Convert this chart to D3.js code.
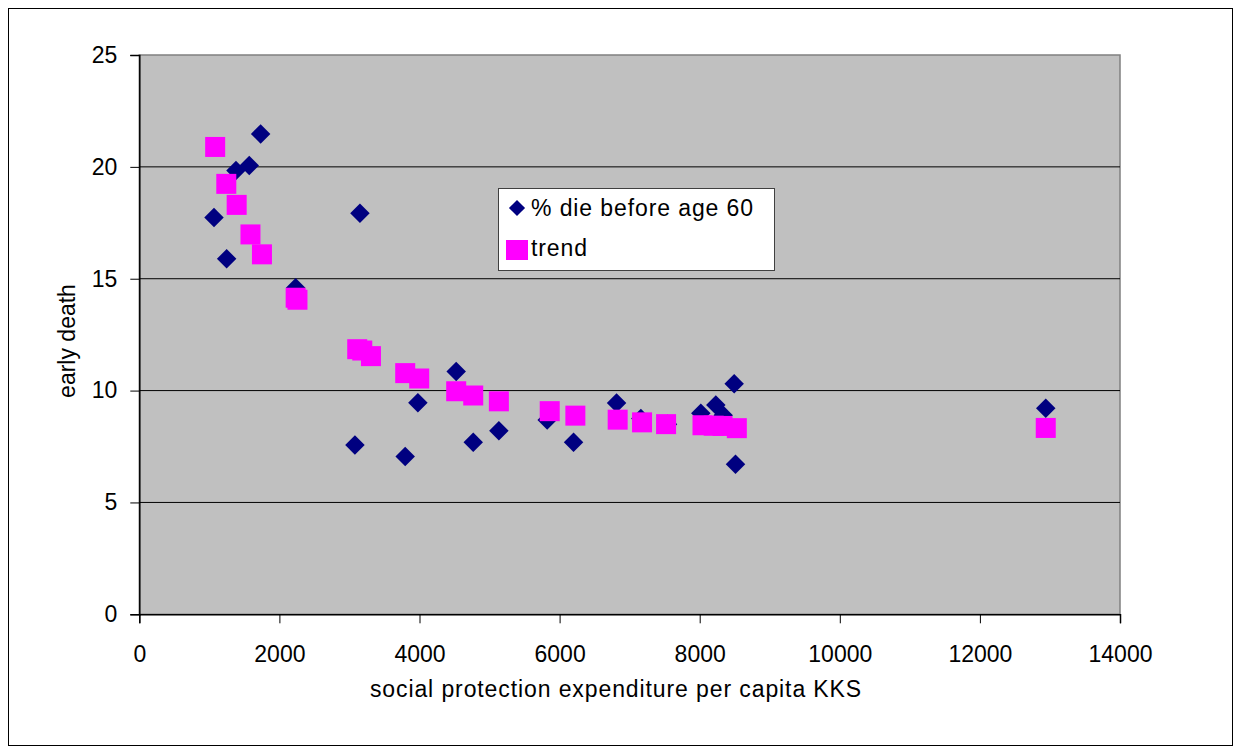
<!DOCTYPE html>
<html>
<head>
<meta charset="utf-8">
<script src="https://cdn.jsdelivr.net/npm/d3@7"></script>
<style>
  html, body { margin: 0; padding: 0; background: #fff; }
  svg { display: block; font-family: "Liberation Sans", Arial, sans-serif; }
</style>
</head>
<body>
<svg id="chart" width="1234" height="749"></svg>
<script>
// ---- data ----
const dieX = [1066, 1247, 1380, 1570, 1732, 2232, 3078, 3150, 3796, 3977, 4524, 4767, 5133, 5823, 6199, 6813, 7160, 7540, 8016, 8230, 8335, 8492, 8511, 12940];
const dieY = [17.74, 15.89, 19.84, 20.06, 21.47, 14.6, 7.57, 17.93, 7.05, 9.46, 10.85, 7.69, 8.20, 8.69, 7.69, 9.44, 8.75, 8.50, 8.99, 9.36, 8.90, 10.30, 6.71, 9.21];

const trendX = [1083, 1242, 1390, 1587, 1751, 2232, 2258, 3111, 3183, 3307, 3796, 3996, 4524, 4767, 5133, 5859, 6225, 6829, 7177, 7520, 8040, 8200, 8326, 8530, 12940];
const trendY = [20.89, 19.24, 18.30, 16.98, 16.09, 14.15, 14.06, 11.85, 11.79, 11.54, 10.78, 10.54, 9.97, 9.78, 9.52, 9.08, 8.88, 8.70, 8.58, 8.50, 8.45, 8.43, 8.42, 8.32, 8.33];

const xTicks = [0, 2000, 4000, 6000, 8000, 10000, 12000, 14000];
const yTicks = [0, 5, 10, 15, 20, 25];
const seriesNames = ["% die before age 60", "trend"];
const xTitle = "social protection expenditure per capita KKS";
const yTitle = "early death";

// ---- layout ----
const svg = d3.select("#chart");
const L = 139.3, R = 1120, T = 55, B = 614.3;
const FS = 23;
const x = d3.scaleLinear().domain([0, 14000]).range([L, R]);
const y = d3.scaleLinear().domain([0, 25]).range([B, T]);

// outer frame
svg.append("rect").attr("x", 8.5).attr("y", 8.5).attr("width", 1224).attr("height", 737)
  .attr("fill", "#fff").attr("stroke", "#000").attr("stroke-width", 1);

// plot area
svg.append("rect").attr("x", L).attr("y", T).attr("width", R - L).attr("height", B - T)
  .attr("fill", "#C0C0C0").attr("stroke", "#808080").attr("stroke-width", 1.5);

// gridlines
svg.append("g").selectAll("line").data(yTicks.filter(v => v > 0 && v < 25)).join("line")
  .attr("x1", L).attr("x2", R).attr("y1", d => y(d)).attr("y2", d => y(d))
  .attr("stroke", "#000").attr("stroke-width", 1);

// axes
const yAxis = svg.append("g").attr("transform", `translate(${L},0)`)
  .call(d3.axisLeft(y).tickValues(yTicks).tickSize(9).tickPadding(13).tickFormat(d3.format("d")));
const xAxis = svg.append("g").attr("transform", `translate(0,${B})`)
  .call(d3.axisBottom(x).tickValues(xTicks).tickSize(9).tickPadding(22).tickFormat(d3.format("d")));
[xAxis, yAxis].forEach(g => {
  g.select(".domain").attr("stroke", "#000").attr("stroke-width", 1.5);
  g.selectAll(".tick line").attr("stroke", "#000").attr("stroke-width", 1);
  g.selectAll(".tick text").attr("fill", "#000").style("font-size", FS + "px")
    .style("font-family", '"Liberation Sans", Arial, sans-serif');
});

// axis titles
svg.append("text").attr("x", 616).attr("y", 697).attr("text-anchor", "middle")
  .style("font-size", FS + "px").style("letter-spacing", "0.9px").attr("fill", "#000").text(xTitle);
svg.append("text").attr("transform", "translate(75,341) rotate(-90)").attr("text-anchor", "middle")
  .style("font-size", FS + "px").attr("fill", "#000").text(yTitle);

// markers
const diamond = d3.symbol().type(d3.symbolSquare).size(190);
const dieData = dieX.map((v, i) => [v, dieY[i]]);
const trendData = trendX.map((v, i) => [v, trendY[i]]);

svg.append("g").selectAll("path").data(dieData).join("path")
  .attr("d", diamond)
  .attr("transform", d => `translate(${x(d[0])},${y(d[1])}) rotate(45)`)
  .attr("fill", "#000080");

svg.append("g").selectAll("rect").data(trendData).join("rect")
  .attr("x", d => x(d[0]) - 10).attr("y", d => y(d[1]) - 10)
  .attr("width", 20).attr("height", 20)
  .attr("fill", "#FF00FF");

// legend
const lg = svg.append("g");
lg.append("rect").attr("x", 498.5).attr("y", 188.5).attr("width", 276).attr("height", 82)
  .attr("fill", "#fff").attr("stroke", "#404040").attr("stroke-width", 1);
lg.append("path").attr("d", d3.symbol().type(d3.symbolSquare).size(130))
  .attr("transform", "translate(517,208) rotate(45)").attr("fill", "#000080");
lg.append("rect").attr("x", 506).attr("y", 240).attr("width", 22).attr("height", 20).attr("fill", "#FF00FF");
lg.append("text").attr("x", 531).attr("y", 216).style("font-size", FS + "px").style("letter-spacing", "0.9px").attr("fill", "#000").text(seriesNames[0]);
lg.append("text").attr("x", 531).attr("y", 256).style("font-size", FS + "px").style("letter-spacing", "0.9px").attr("fill", "#000").text(seriesNames[1]);
</script>
</body>
</html>
